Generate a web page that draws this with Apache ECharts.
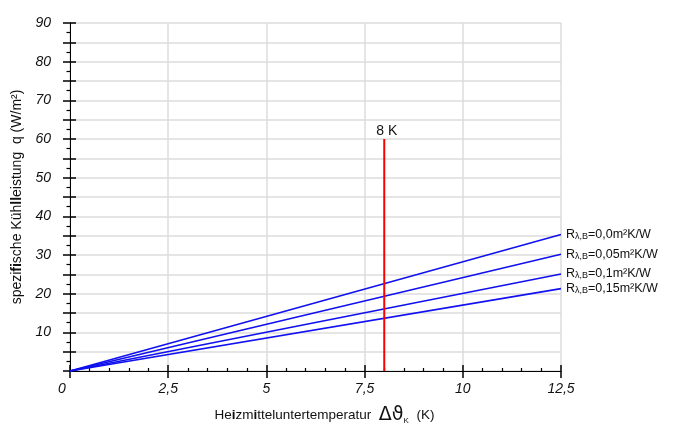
<!DOCTYPE html>
<html>
<head>
<meta charset="utf-8">
<script src="https://cdn.jsdelivr.net/npm/echarts@6/dist/echarts.min.js"></script>
<style>
  html, body { margin: 0; padding: 0; background: #fff; }
  #chart { width: 673px; height: 430px; }
</style>
</head>
<body>
<div id="chart"></div>
<script>
// Data
var seriesNames = ['0,0', '0,05', '0,1', '0,15'];
var xValues = [0, 12.5];
var line00 = [0, 35.3];
var line005 = [0, 30.2];
var line01 = [0, 25.1];
var line015 = [0, 21.3];
var markX = 8;
var markTop = 60;

var fontFamily = '"Liberation Sans", Arial, sans-serif';

function makeLine(name, values) {
    return {
        name: name,
        type: 'line',
        symbol: 'none',
        silent: true,
        lineStyle: { color: '#1010f0', width: 1.6 },
        data: xValues.map(function (x, i) { return [x, values[i]]; }),
        endLabel: {
            show: true,
            distance: 5,
            formatter: 'R{sub|λ,B}=' + name + 'm²K/W',
            color: '#111',
            fontSize: 12.5,
            fontFamily: fontFamily,
            rich: {
                sub: { fontSize: 9, fontFamily: fontFamily, color: '#111', verticalAlign: 'bottom', padding: [3, 0, 0, 0] }
            }
        }
    };
}

var chart = echarts.init(document.getElementById('chart'));

var commaFmt = function (v) { return String(v).replace('.', ','); };

chart.setOption({
    animation: false,
    textStyle: { fontFamily: fontFamily },
    grid: { left: 70, right: 112, top: 23, bottom: 53.5, containLabel: false },
    xAxis: [{
        type: 'value',
        min: 0,
        max: 12.5,
        interval: 2.5,
        name: 'He{b|i}zm{b|i}tteluntertemperatur  {big|Δϑ}{sub|K}  (K)',
        nameLocation: 'middle',
        nameGap: 35,
        nameTextStyle: {
            color: '#111',
            fontSize: 13.5,
            fontFamily: fontFamily,
            padding: [0, 0, 0, 18],
            rich: {
                b: { fontSize: 13.5, fontWeight: 'bold', color: '#111', fontFamily: fontFamily },
                big: { fontSize: 19, color: '#111', fontFamily: 'DejaVu Sans' },
                sub: { fontSize: 8, color: '#111', verticalAlign: 'bottom', padding: [4, 0, 0, 0] }
            }
        },
        axisLine: { show: true, onZero: false, lineStyle: { color: '#000', width: 1 } },
        axisTick: { show: true, inside: false, length: 7, lineStyle: { color: '#000', width: 1.5 } },
        minorTick: { show: true, splitNumber: 5, length: 0 },
        axisLabel: {
            color: '#111',
            fontSize: 14,
            fontStyle: 'italic',
            margin: 11,
            formatter: function (v) {
                if (v === 0) return '{zero|0}';
                return commaFmt(v);
            },
            rich: {
                zero: { fontSize: 14, fontStyle: 'italic', color: '#111', padding: [0, 16, 3, 0] }
            }
        },
        splitLine: { show: true, lineStyle: { color: '#dcdcdc', width: 1.5 } }
    }, {
        // inner half of major ticks and inner minor ticks
        type: 'value',
        position: 'bottom',
        min: 0,
        max: 12.5,
        interval: 2.5,
        axisLine: { show: false },
        axisTick: { show: true, inside: true, length: 6, lineStyle: { color: '#000', width: 1.5 } },
        minorTick: { show: true, splitNumber: 5, length: 3, lineStyle: { color: '#000', width: 1.2 } },
        axisLabel: { show: false },
        splitLine: { show: false }
    }],
    yAxis: [{
        type: 'value',
        min: 0,
        max: 90,
        interval: 5,
        name: 'spezi{b|fi}sche Küh{b|ll}eistung  q (W/m²)',
        nameLocation: 'middle',
        nameGap: 42,
        nameTextStyle: {
            color: '#111',
            fontSize: 14,
            fontFamily: fontFamily,
            rich: {
                b: { fontSize: 14, fontWeight: 'bold', color: '#111', fontFamily: fontFamily }
            }
        },
        axisLine: { show: true, onZero: false, lineStyle: { color: '#000', width: 1 } },
        axisTick: { show: true, inside: false, length: 7, lineStyle: { color: '#000', width: 1.5 } },
        minorTick: { show: true, splitNumber: 2, length: 3.5, lineStyle: { color: '#000', width: 1.2 } },
        axisLabel: {
            color: '#111',
            fontSize: 14,
            fontStyle: 'italic',
            margin: 19,
            formatter: function (v) {
                if (v === 0 || v % 10 !== 0) return '';
                return commaFmt(v);
            }
        },
        splitLine: { show: true, lineStyle: { color: '#dcdcdc', width: 1.5 } }
    }, {
        type: 'value',
        position: 'left',
        min: 0,
        max: 90,
        interval: 5,
        axisLine: { show: false },
        axisTick: { show: true, inside: true, length: 6, lineStyle: { color: '#000', width: 1.5 } },
        axisLabel: { show: false },
        splitLine: { show: false }
    }],
    series: [
        makeLine(seriesNames[0], line00),
        makeLine(seriesNames[1], line005),
        makeLine(seriesNames[2], line01),
        makeLine(seriesNames[3], line015),
        {
            name: '8 K',
            type: 'line',
            symbol: 'none',
            silent: true,
            lineStyle: { color: '#ff0000', width: 2 },
            data: [[markX, 0], [markX, markTop]],
            endLabel: {
                show: true,
                formatter: '8 K',
                color: '#111',
                fontSize: 14,
                fontFamily: fontFamily,
                offset: [-16, -8]
            }
        }
    ]
});
</script>
</body>
</html>
